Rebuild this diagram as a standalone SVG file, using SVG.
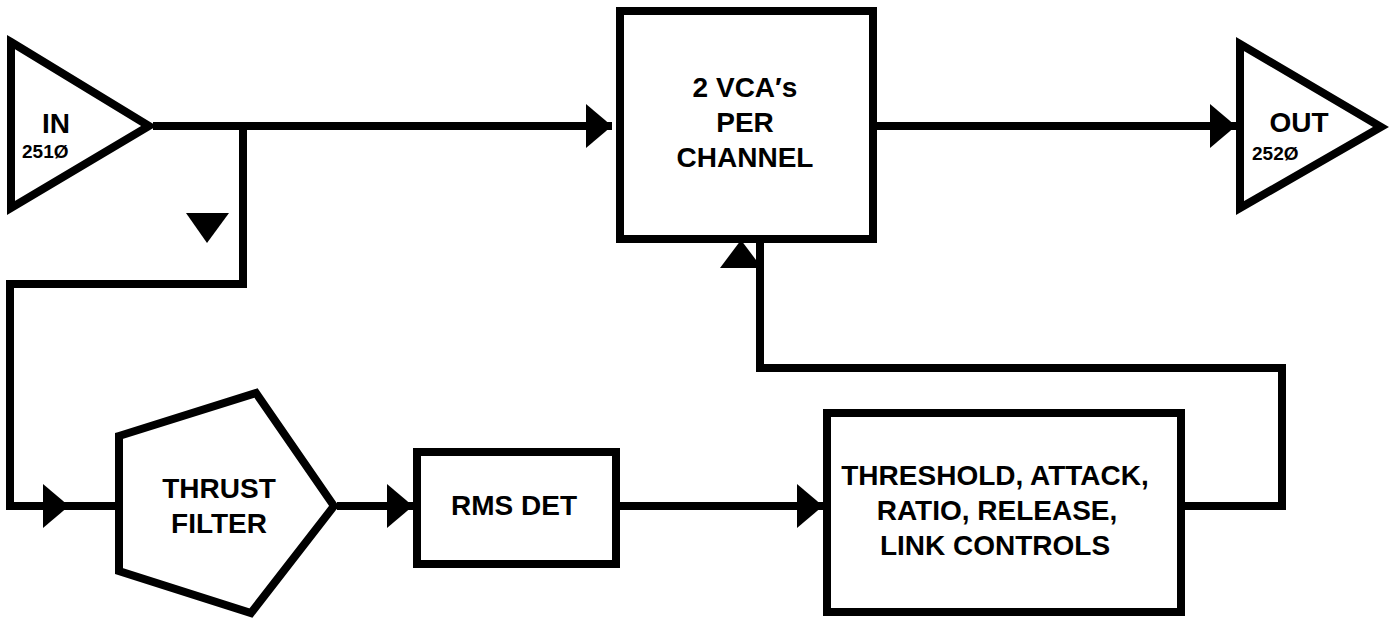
<svg xmlns="http://www.w3.org/2000/svg" width="1390" height="623" viewBox="0 0 1390 623">
<style>
.shape{fill:#fff;stroke:#000;stroke-width:8;stroke-linejoin:miter;stroke-miterlimit:10}
.wire{fill:none;stroke:#000;stroke-width:8;stroke-linejoin:miter;stroke-linecap:square}
.head{fill:#000;stroke:none}
.t{font-family:"Liberation Sans",Arial,sans-serif;font-weight:bold;font-size:28px;fill:#000;text-anchor:middle}
.s{font-family:"Liberation Sans",Arial,sans-serif;font-weight:bold;font-size:19px;fill:#000}
</style>
<defs>
<marker id="arr" markerUnits="userSpaceOnUse" markerWidth="28" markerHeight="46" refX="26" refY="22" orient="auto" viewBox="0 0 28 46">
<path class="head" d="M0,0 L26,22 L0,44 Z"/>
</marker>
</defs>
<g id="connectors">
<line class="wire" x1="153" y1="126" x2="612" y2="126" marker-end="url(#arr)" style="stroke-linecap:butt"/>
<line class="wire" x1="877" y1="126" x2="1236" y2="126" marker-end="url(#arr)" style="stroke-linecap:butt"/>
<polyline class="wire" points="243,126 243,284 10,284 10,506 69,506" marker-end="url(#arr)"/>
<line class="wire" x1="60" y1="506" x2="119" y2="506" style="stroke-linecap:butt"/>
<polygon class="head" points="186,213 229,213 207,243"/>
<line class="wire" x1="337" y1="506" x2="413" y2="506" marker-end="url(#arr)" style="stroke-linecap:butt"/>
<line class="wire" x1="620" y1="506" x2="823" y2="506" marker-end="url(#arr)" style="stroke-linecap:butt"/>
<polyline class="wire" points="1185,506 1282,506 1282,368 760,368 760,243" style="stroke-linecap:butt"/>
<polygon class="head" points="720,268 762,268 741,240"/>
</g>
<g id="in">
<polygon class="shape" points="11,42 149,126 11,208"/>
<text class="t" x="56" y="133">IN</text>
<text class="s" x="22" y="158">251Ø</text>
</g>
<g id="vca">
<rect class="shape" x="620" y="11" width="253" height="228"/>
<text class="t" x="745" y="97">2 VCA′s</text>
<text class="t" x="745" y="132">PER</text>
<text class="t" x="745" y="167">CHANNEL</text>
</g>
<g id="out">
<polygon class="shape" points="1240,44 1381,127 1240,208"/>
<text class="t" x="1299" y="132">OUT</text>
<text class="s" x="1252" y="160">252Ø</text>
</g>
<g id="thrust-filter">
<polygon class="shape" points="119,436 256,393 334,506 251,613 119,571"/>
<text class="t" x="219" y="498">THRUST</text>
<text class="t" x="219" y="533">FILTER</text>
</g>
<g id="rms-det">
<rect class="shape" x="417" y="452" width="199" height="112"/>
<text class="t" x="514" y="515">RMS DET</text>
</g>
<g id="controls">
<rect class="shape" x="827" y="413" width="354" height="199"/>
<text class="t" x="995" y="485">THRESHOLD, ATTACK,</text>
<text class="t" x="997" y="520">RATIO, RELEASE,</text>
<text class="t" x="995" y="555">LINK CONTROLS</text>
</g>
</svg>
